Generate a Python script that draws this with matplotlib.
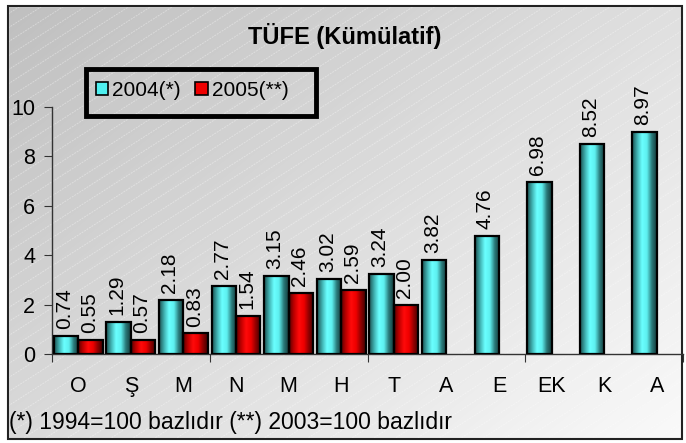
import numpy as np
import matplotlib
matplotlib.use("Agg")
import matplotlib.pyplot as plt
from matplotlib.patches import Rectangle
from matplotlib.colors import LinearSegmentedColormap

plt.rcParams['font.family'] = ['Liberation Sans', 'DejaVu Sans']

months = ['O', 'Ş', 'M', 'N', 'M', 'H', 'T', 'A', 'E', 'EK', 'K', 'A']
tufe_2004 = [0.74, 1.29, 2.18, 2.77, 3.15, 3.02, 3.24, 3.82, 4.76, 6.98, 8.52, 8.97]
tufe_2005 = [0.55, 0.57, 0.83, 1.54, 2.46, 2.59, 2.00, np.nan, np.nan, np.nan, np.nan, np.nan]
labels_2004 = ['0.74', '1.29', '2.18', '2.77', '3.15', '3.02', '3.24', '3.82', '4.76', '6.98', '8.52', '8.97']
labels_2005 = ['0.55', '0.57', '0.83', '1.54', '2.46', '2.59', '2.00', '', '', '', '', '']
series_names = ['2004(*)', '2005(**)']

W, H = 686, 443
fig = plt.figure(figsize=(W / 100, H / 100), dpi=100)

# background: grey gradient with faint diagonal lines
bg = fig.add_axes([0, 0, 1, 1], zorder=0)
bg.set_xlim(0, W)
bg.set_ylim(H, 0)
bg.axis('off')
yy, xx = np.mgrid[0:H, 0:W]
t = (xx / W * 0.55 + yy / H * 0.45)
shade = 0.75 + 0.23 * t
img = np.dstack([shade, shade, shade])
bg.imshow(img, extent=[8, 682, 439, 6], aspect='auto', interpolation='bilinear')
for c in np.arange(0, W * 0.64 + H + 20, 14):
    bg.plot([8, 682], [c, c - 0.64 * 674], color='white', alpha=0.35, lw=0.7,
            ls=(0, (2, 1)), clip_on=True)
bg.set_xlim(0, W)
bg.set_ylim(H, 0)
bg.add_patch(Rectangle((0, 0), 8, H, color='white', zorder=3))
bg.add_patch(Rectangle((682, 0), 10, H, color='white', zorder=3))
bg.add_patch(Rectangle((0, 0), W, 6, color='white', zorder=3))
bg.add_patch(Rectangle((0, 439), W, 10, color='white', zorder=3))
bg.add_patch(Rectangle((8, 6), 674, 433, fill=False, ec='#222222', lw=1.5, zorder=4))

# plot area
x0, x1 = 52, 683
y0, y10 = 354, 107
ax = fig.add_axes([x0 / W, 1 - y0 / H, (x1 - x0) / W, (y0 - y10) / H], zorder=1)
ax.patch.set_alpha(0)

n = len(months)
x = np.arange(n)
bw = 0.465
off = 0.035

cyan_cmap = LinearSegmentedColormap.from_list('cy', ['#1c5050', '#3fb0b0', '#6affff', '#5ef0f0', '#2a7a7a', '#143c3c'])
red_cmap = LinearSegmentedColormap.from_list('rd', ['#5a0000', '#c00000', '#ff0a0a', '#f00000', '#900000', '#400000'])
grad = np.linspace(0, 1, 64).reshape(1, -1)

def gradient_bars(vals, left, cmap, labels):
    bars = ax.bar(left, vals, width=bw, align='edge', facecolor='none',
                  edgecolor='black', lw=1.6, zorder=3)
    for b, v, lab in zip(bars, vals, labels):
        if np.isnan(v):
            continue
        bx, by = b.get_x(), b.get_y()
        im = ax.imshow(grad, cmap=cmap, extent=[bx, bx + b.get_width(), by, by + b.get_height()],
                       aspect='auto', zorder=2, interpolation='bilinear')
        im.set_clip_path(b)
        ax.annotate(lab, (bx + b.get_width() / 2, v), xytext=(-1, 5), textcoords='offset points',
                    rotation=90, ha='center', va='bottom', fontsize=15, annotation_clip=False)
    return bars

gradient_bars(np.array(tufe_2004), x + off, cyan_cmap, labels_2004)
gradient_bars(np.array(tufe_2005), x + off + bw, red_cmap, labels_2005)

ax.set_xlim(0, n)
ax.set_ylim(0, 10)
ax.set_yticks([0, 2, 4, 6, 8, 10])
ax.set_yticklabels(['0', '2', '4', '6', '8', '10'], fontsize=15.5)
ax.set_xticks([0, 3, 6, 9, 12])
ax.set_xticklabels([])
ax.set_xticks(x + 0.5, minor=True)
ax.set_xticklabels(months, minor=True, fontsize=15.5)
ax.tick_params(axis='x', which='major', direction='out', length=6, color='#333333')
ax.tick_params(axis='x', which='minor', length=0, pad=16)
ax.tick_params(axis='y', direction='out', length=6, color='#333333', pad=6)
for s in ['top', 'right']:
    ax.spines[s].set_visible(False)
for s in ['left', 'bottom']:
    ax.spines[s].set_color('#333333')
    ax.spines[s].set_linewidth(1.0)

# legend
leg_handles = [Rectangle((0, 0), 1, 1, fc='#4ff0f0', ec='black', lw=1.2),
               Rectangle((0, 0), 1, 1, fc='#ee0000', ec='black', lw=1.2)]
leg = fig.legend(leg_handles, series_names, loc='upper left', bbox_to_anchor=(83 / W, 1 - 68 / H),
                 frameon=False, ncol=2, fontsize=15, handlelength=0.6, handleheight=0.6,
                 handletextpad=0.2, columnspacing=0.7, borderpad=0.1)
bg.add_patch(Rectangle((86, 69), 230, 47, fill=False, ec='black', lw=3.5, zorder=5))

fig.text(345 / W, 1 - 36 / H, 'TÜFE (Kümülatif)', ha='center', va='center',
         fontsize=17, fontweight='bold')
fig.text(9 / W, 1 - 422 / H, '(*) 1994=100 bazlıdır (**) 2003=100 bazlıdır',
         ha='left', va='center', fontsize=16.5)

fig.savefig('out.png', dpi=100)
